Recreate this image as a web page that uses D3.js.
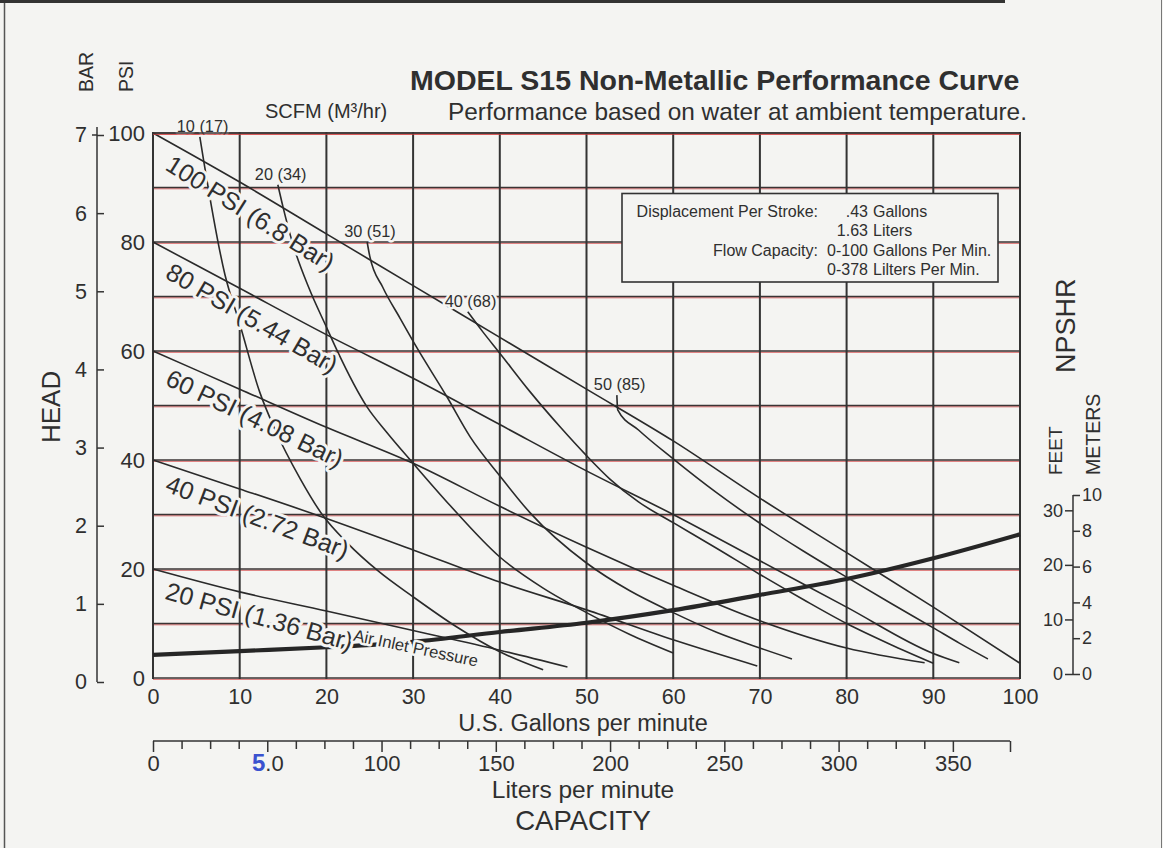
<!DOCTYPE html>
<html><head><meta charset="utf-8"><title>MODEL S15 Non-Metallic Performance Curve</title>
<script src="https://cdn.jsdelivr.net/npm/d3@7/dist/d3.min.js"></script>
<style>
html,body{margin:0;padding:0;background:#f4f4f2}
svg{display:block}
text{font-family:"Liberation Sans",Arial,Helvetica,sans-serif;fill:#2f2f2f}
</style></head>
<body><svg id="chart" width="1163" height="848"></svg>
<script>
// ---------- DATA ----------
const gpmTicks   = [0,10,20,30,40,50,60,70,80,90,100];
const psiGrid    = [0,10,20,30,40,50,60,70,80,90,100];
const psiTicks   = [0,20,40,60,80,100];
const barTicks   = [0,1,2,3,4,5,6,7];
const literMajor = [0,50,100,150,200,250,300,350];
const literMinor = [12.5,25,37.5,62.5,75,87.5,112.5,125,137.5,162.5,175,187.5,212.5,225,237.5,262.5,275,287.5,312.5,325,337.5];
const literEnd   = 375;
const feetTicks  = [0,10,20,30];
const meterTicks = [0,2,4,6,8,10];

// Air inlet pressure curves: [gpm, psi head]
const psi100 = [[0,100],[10,91],[20,81.5],[30,72],[40,62.5],[50,53],[60,43.5],[70,33],[80,23],[90,13],[100,2.7]];
const psi80  = [[0,80],[10,71.5],[20,63],[30,55],[40,46.5],[50,38],[60,30],[70,21.5],[80,13],[90,4.5],[93,2.8]];
const psi60  = [[0,60],[10,53],[20,46],[30,39.4],[40,31.5],[50,24],[60,17],[70,10.5],[80,5.5],[89,2.8]];
const psi40  = [[0,40],[10,34.7],[19.6,29.5],[30,23.5],[40,17.6],[50,12.5],[60,7],[69.7,2.2]];
const psi20  = [[0,20],[10,15.8],[20,12.3],[30,8.7],[40,5.1],[47.8,2]];
const pressureLabels = ["100 PSI (6.8 Bar)","80 PSI (5.44 Bar)","60 PSI (4.08 Bar)","40 PSI (2.72 Bar)","20 PSI (1.36 Bar)"];

// Air consumption curves (SCFM), first point = label leader top
const scfm10 = [[5.4,99.3],[5.9,94.4],[8.3,74],[10,65],[12.3,52.5],[14.1,45.5],[17,36.5],[19.6,29.8],[22.4,24.8],[26,19.6],[30,14.9],[35,9.4],[40,4.8],[45,1.5]];
const scfm20 = [[14.4,90.5],[15,86.4],[16.1,79.8],[18,71.5],[20,64.4],[21.2,60.2],[24.7,49.7],[27,45],[30,39.4],[34.3,31.6],[40,22.2],[45,16.5],[50,12],[55,8],[60,4.6]];
const scfm30 = [[24.7,80],[25,77.4],[26.5,71.7],[28.5,66],[30.4,60.7],[33.9,51.6],[36.6,44.2],[40.1,36.9],[43.5,30.3],[50,21.1],[55,16],[60,12],[65,8.4],[70,5.5],[73.7,3.5]];
const scfm40 = [[36.3,67.2],[38,63.6],[40,59.6],[43.5,52.5],[47,46],[50,40.8],[52.7,36.5],[56,32.3],[60,28.5],[65,23.8],[70,19],[75,14.4],[80,10],[85,6.2],[90,2.7]];
const scfm50 = [[53.5,51.9],[53.6,49.2],[56,45.5],[60,40.2],[65,34],[70,28.4],[75,23.3],[80,18.5],[85,13.8],[90,9.2],[93,6.4],[96.3,3.5]];
const scfmLabels = ["10 (17)","20 (34)","30 (51)","40 (68)","50 (85)"];

// NPSHR curve (feet)
const npshrGpm  = [0,10,20,30,40,50,60,70,80,90,100];
const npshrFeet = [3.5,4.2,4.9,5.9,7.7,9.4,11.7,14.5,17.4,21.2,25.6];

const legendLeft  = ["Displacement Per Stroke:","","Flow Capacity:",""];
const legendNum   = [".43","1.63","0-100","0-378"];
const legendUnit  = ["Gallons","Liters","Gallons Per Min.","Lilters Per Min."];

// ---------- SETUP ----------
const W=1163,H=848, BG="#f4f4f2", INK="#2f2f2f", FONT='"Liberation Sans",Arial,Helvetica,sans-serif';
const svg=d3.select("#chart");
svg.append("rect").attr("width",W).attr("height",H).attr("fill",BG);

const x=d3.scaleLinear().domain([0,100]).range([153,1020]);
const y=d3.scaleLinear().domain([0,100]).range([678,133]);
const yBar=d3.scaleLinear().domain([0,7]).range([682,135]);
const xL=d3.scaleLinear().domain([0,375]).range([153,1010]);
const yM=d3.scaleLinear().domain([0,10]).range([674,495]);
const yFt=d3.scaleLinear().domain([0,10/0.3048]).range([674,495]);

// page frame
svg.append("line").attr("x1",4.5).attr("x2",4.5).attr("y1",0).attr("y2",H).attr("stroke","#555").attr("stroke-width",1.5);
svg.append("line").attr("x1",0).attr("x2",1005).attr("y1",1.5).attr("y2",1.5).attr("stroke","#333").attr("stroke-width",3);
svg.append("line").attr("x1",1161.5).attr("x2",1161.5).attr("y1",0).attr("y2",H).attr("stroke","#777").attr("stroke-width",1);

// ---------- GRID ----------
const grid=svg.append("g");
function hGrid(g,v){
  g.append("line").attr("x1",x(0)).attr("x2",x(100)).attr("y1",y(v)+1.3).attr("y2",y(v)+1.3)
    .attr("stroke","#d64545").attr("stroke-width",1).attr("opacity",0.8);
  g.append("line").attr("x1",x(0)).attr("x2",x(100)).attr("y1",y(v)).attr("y2",y(v))
    .attr("stroke","#3a3434").attr("stroke-width",1.7);
}
psiGrid.forEach(v=>hGrid(grid,v));
gpmTicks.forEach(v=>{
  grid.append("line").attr("x1",x(v)).attr("x2",x(v)).attr("y1",y(0)+1).attr("y2",y(100)-1)
    .attr("stroke","#333").attr("stroke-width",2);
});

// ---------- CURVES ----------
const line=d3.line().x(d=>x(d[0])).y(d=>y(d[1])).curve(d3.curveMonotoneX);
const pressureSets=[psi100,psi80,psi60,psi40,psi20];
const scfmSets=[scfm10,scfm20,scfm30,scfm40,scfm50];
const curves=svg.append("g").attr("fill","none").attr("stroke","#2a2a2a").attr("stroke-width",1.6);
pressureSets.forEach(p=>curves.append("path").attr("d",line(p)));
scfmSets.forEach(p=>curves.append("path").attr("d",line(p)));

const npLine=d3.line().x((d,i)=>x(npshrGpm[i])).y(d=>yFt(d)).curve(d3.curveMonotoneX);
svg.append("path").attr("d",npLine(npshrFeet)).attr("fill","none").attr("stroke","#262626").attr("stroke-width",4.2);

// ---------- CURVE LABELS ----------
function interp(pts,g){
  for(let i=1;i<pts.length;i++){
    if(g<=pts[i][0]){const a=pts[i-1],b=pts[i];return a[1]+(b[1]-a[1])*(g-a[0])/(b[0]-a[0]);}
  }
  return pts[pts.length-1][1];
}
function halo(sel,w){return sel.attr("stroke",BG).attr("stroke-width",w||6).attr("stroke-linejoin","round").attr("paint-order","stroke");}

const labG=svg.append("g");
const OFF=26, START_X=164;
pressureSets.forEach((p,i)=>{
  const a0=[x(0),y(p[0][1])], a1=[x(20),y(interp(p,20))];
  const ang=Math.atan2(a1[1]-a0[1],a1[0]-a0[0])*180/Math.PI+2;
  const r=ang*Math.PI/180;
  const g0=x.invert(START_X+OFF*Math.sin(r));
  const p0=[x(g0),y(interp(p,g0))];
  halo(labG.append("text").attr("transform",`translate(${p0[0]},${p0[1]}) rotate(${ang})`)
    .attr("x",0).attr("y",OFF).attr("font-size",25).text(pressureLabels[i]));
});
// "Air Inlet Pressure"
{
  const p=psi20,g0=23.6,g1=36;
  const p0=[x(g0),y(interp(p,g0))], p1=[x(g1),y(interp(p,g1))];
  const ang=Math.atan2(p1[1]-p0[1],p1[0]-p0[0])*180/Math.PI-0.8;
  halo(labG.append("text").attr("transform",`translate(${p0[0]},${p0[1]}) rotate(${ang})`)
    .attr("x",0).attr("y",23).attr("font-size",16.5).text("Air Inlet Pressure"),5);
}
scfmSets.forEach((p,i)=>{
  const px=x(p[0][0]), py=y(p[0][1]);
  halo(labG.append("text").attr("x",px-23).attr("y",py-5).attr("font-size",16.3).text(scfmLabels[i]),5);
});
// keep the top frame line intact above the labels
hGrid(svg.append("g"),100);

// ---------- LEGEND BOX ----------
const lg=svg.append("g");
lg.append("rect").attr("x",622).attr("y",193.5).attr("width",376).attr("height",88.5)
  .attr("fill",BG).attr("stroke","#333").attr("stroke-width",1.6);
const lgY=[216.5,236,255.5,275];
legendNum.forEach((n,i)=>{
  if(legendLeft[i]) lg.append("text").attr("x",818).attr("y",lgY[i]).attr("text-anchor","end").attr("font-size",16).text(legendLeft[i]);
  lg.append("text").attr("x",868).attr("y",lgY[i]).attr("text-anchor","end").attr("font-size",16).text(n);
  lg.append("text").attr("x",873).attr("y",lgY[i]).attr("font-size",16).text(legendUnit[i]);
});

// ---------- AXES ----------
function styleAxis(g,size){
  g.attr("font-family",FONT).attr("font-size",size);
  g.selectAll("text").attr("font-size",size).attr("fill",INK);
  g.selectAll("line").attr("stroke","#333").attr("stroke-width",1.5);
}
// PSI axis
const gPsi=svg.append("g").attr("transform",`translate(${x(0)},0)`)
  .call(d3.axisLeft(y).tickValues(psiTicks).tickSize(0).tickPadding(8).tickFormat(d3.format("d")));
gPsi.select(".domain").remove(); styleAxis(gPsi,22);

// BAR axis
const gBar=svg.append("g").attr("transform","translate(97,0)")
  .call(d3.axisLeft(yBar).tickValues(barTicks).tickSizeInner(-7).tickSizeOuter(0).tickPadding(10).tickFormat(d3.format("d")));
gBar.select(".domain").remove(); styleAxis(gBar,21.5);
svg.append("line").attr("x1",97).attr("x2",97).attr("y1",yBar(7)-8).attr("y2",yBar(0)).attr("stroke","#333").attr("stroke-width",1.5);
svg.append("line").attr("x1",92).attr("x2",97).attr("y1",yBar(7)).attr("y2",yBar(7)).attr("stroke","#333").attr("stroke-width",1.5);

// GPM axis
const gG=svg.append("g").attr("transform",`translate(0,${y(0)})`)
  .call(d3.axisBottom(x).tickValues(gpmTicks).tickSize(0).tickPadding(11).tickFormat(d3.format("d")));
gG.select(".domain").remove(); styleAxis(gG,21.5);

// Liters axis
const LY=741;
const gLm=svg.append("g").attr("transform",`translate(0,${LY})`)
  .call(d3.axisBottom(xL).tickValues(literMinor).tickSize(8).tickFormat(""));
gLm.select(".domain").remove(); styleAxis(gLm,10);
const gL=svg.append("g").attr("transform",`translate(0,${LY})`)
  .call(d3.axisBottom(xL).tickValues(literMajor.concat([literEnd])).tickSize(11).tickPadding(3)
    .tickFormat(d=>d===literEnd?"":d3.format("d")(d)));
gL.select(".domain").remove(); styleAxis(gL,22);
gL.selectAll(".tick").filter(d=>d===50).select("text").text(null).call(t=>{
  t.append("tspan").attr("fill","#3a52cf").attr("font-weight","bold").attr("font-size",24).text("5");
  t.append("tspan").attr("fill",INK).text(".0");
});
svg.append("line").attr("x1",xL(0)).attr("x2",xL(literEnd)).attr("y1",LY).attr("y2",LY).attr("stroke","#333").attr("stroke-width",1.6);

// NPSHR axes
const NX=1073;
const gFt=svg.append("g").attr("transform",`translate(${NX},0)`)
  .call(d3.axisLeft(yFt).tickValues(feetTicks).tickSize(8).tickPadding(2).tickFormat(d3.format("d")));
gFt.select(".domain").remove(); styleAxis(gFt,18);
const gM=svg.append("g").attr("transform",`translate(${NX},0)`)
  .call(d3.axisRight(yM).tickValues(meterTicks).tickSizeInner(7).tickSizeOuter(0).tickPadding(2).tickFormat(d3.format("d")));
gM.select(".domain").remove(); styleAxis(gM,18);
svg.append("line").attr("x1",NX).attr("x2",NX).attr("y1",yM(10)).attr("y2",yM(0)).attr("stroke","#333").attr("stroke-width",1.5);

// ---------- TEXTS ----------
function rtext(tx,ty,size,str){
  return svg.append("text").attr("transform",`translate(${tx},${ty}) rotate(-90)`).attr("font-size",size).text(str);
}
rtext(93,92,19.5,"BAR");
rtext(133,92,19.5,"PSI");
rtext(60,443,26,"HEAD");
rtext(1075,373,27,"NPSHR");
rtext(1062,475,19,"FEET");
rtext(1100,475,19.5,"METERS");

svg.append("text").attr("x",410).attr("y",90).attr("font-size",28.5).attr("font-weight","bold").attr("fill","#262626")
  .text("MODEL S15 Non-Metallic Performance Curve");
svg.append("text").attr("x",448).attr("y",120).attr("font-size",24.4)
  .text("Performance based on water at ambient temperature.");
svg.append("text").attr("x",265).attr("y",118).attr("font-size",20).text("SCFM (M³/hr)");

svg.append("text").attr("x",583).attr("y",731).attr("text-anchor","middle").attr("font-size",23.5).text("U.S. Gallons per minute");
svg.append("text").attr("x",583).attr("y",798).attr("text-anchor","middle").attr("font-size",24.5).text("Liters per minute");
svg.append("text").attr("x",583).attr("y",830).attr("text-anchor","middle").attr("font-size",27.5).text("CAPACITY");
</script></body></html>
